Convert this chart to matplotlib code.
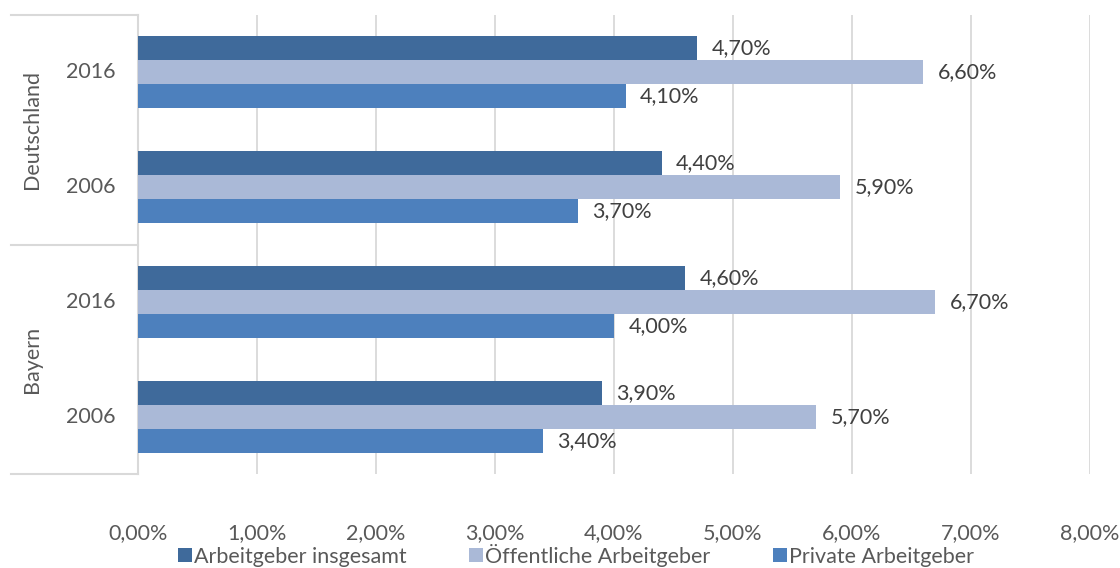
import matplotlib.pyplot as plt
import numpy as np

# data (bottom to top, like the chart)
regions = ["Bayern", "Deutschland"]
years = ["2006", "2016"]
series = ["Arbeitgeber insgesamt", "Öffentliche Arbeitgeber", "Private Arbeitgeber"]
insgesamt = [3.9, 4.6, 4.4, 4.7]
oeffentlich = [5.7, 6.7, 5.9, 6.6]
privat = [3.4, 4.0, 3.7, 4.1]
colors = ["#3F6A9B", "#AAB9D7", "#4D80BD"]
ticks = np.arange(0, 9)

plt.rcParams['font.family'] = ['Lato', 'DejaVu Sans']
grey = "#595959"
line_grey = "#D9D9D9"
fs = 15.5

fig = plt.figure(figsize=(11.2, 5.68), dpi=100)
ax = fig.add_axes([138/1120, 1 - 474/568, (1090 - 138)/1120, (474 - 15)/568])

n = len(insgesamt)
y = np.arange(n)
h = 0.209
values = [insgesamt, oeffentlich, privat]
for i, (vals, c, name) in enumerate(zip(values, colors, series)):
    pos = y + h - i * h
    bars = ax.barh(pos, vals, height=h, color=c, label=name, zorder=3)
    for b, v in zip(bars, vals):
        ax.text(v + 0.12, b.get_y() + h / 2, f"{v:.2f}".replace(".", ",") + "%",
                va="center", ha="left", fontsize=fs, color="#404040")

ax.set_xlim(0, 8)
ax.set_ylim(-0.5, n - 0.5)
ax.set_xticks(ticks)
ax.set_xticklabels([f"{t:.2f}".replace(".", ",") + "%" for t in ticks])
ax.tick_params(axis="x", length=0, pad=35, labelsize=fs, labelcolor=grey)
ax.set_yticks([])
ax.grid(axis="x", color=line_grey, linewidth=1.3, zorder=0)
for s in ["top", "right", "bottom"]:
    ax.spines[s].set_visible(False)
ax.spines["left"].set_color(line_grey)
ax.spines["left"].set_linewidth(1.5)

# hierarchical category labels
trans = ax.get_yaxis_transform()
lab_years = [yr for r in regions for yr in years]
for yi, yr in zip(y, lab_years):
    ax.text(-0.024, yi, yr, transform=trans, ha="right", va="center", fontsize=fs, color=grey)
x_left = (11 - 138) / (1090 - 138)
for k, r in enumerate(regions):
    ax.text((32 - 138) / (1090 - 138), 2 * k + 0.5, r, transform=trans, rotation=90,
            ha="center", va="center", fontsize=fs, color=grey)
for yl in [-0.5, 1.5, 3.5]:
    ax.plot([x_left, 0], [yl, yl], transform=trans, color=line_grey, linewidth=1.5,
            clip_on=False)

fig.legend(loc="lower center", ncol=3, bbox_to_anchor=(0.514, -0.032), frameon=False,
           fontsize=fs, labelcolor=grey, handlelength=0.65, handleheight=0.65,
           handletextpad=0.1, columnspacing=2.9)

fig.savefig("out.png", dpi=100)
